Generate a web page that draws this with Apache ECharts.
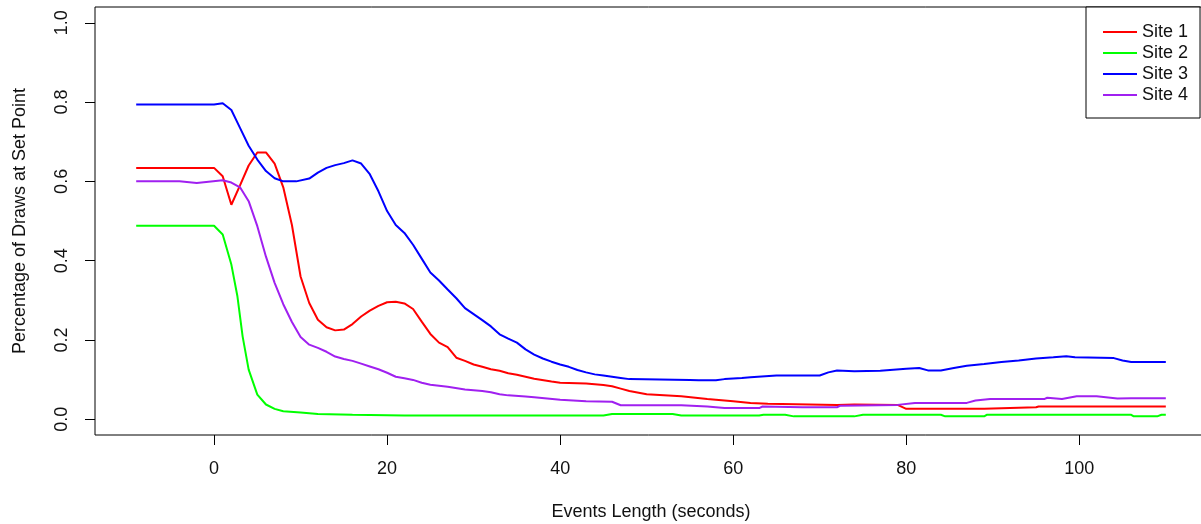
<!DOCTYPE html>
<html>
<head>
<meta charset="utf-8">
<script src="https://cdn.jsdelivr.net/npm/echarts@6/dist/echarts.min.js"></script>
<style>
  html, body { margin: 0; padding: 0; background: #fff; }
  #chart { width: 1201px; height: 524px; }
</style>
</head>
<body>
<div id="chart"></div>
<script>
// values, [seconds, share]
const site1 = [[-9,0.634],[0,0.634],[1,0.613],[2,0.541],[3,0.59],[4,0.64],[5,0.673],[6,0.673],[7,0.645],[8,0.585],[9,0.49],[10,0.36],[11,0.293],[12,0.251],[13,0.232],[14,0.224],[15,0.226],[16,0.24],[17,0.259],[18,0.274],[19,0.286],[20,0.295],[21,0.296],[22,0.292],[23,0.278],[24,0.246],[25,0.215],[26,0.193],[27,0.182],[28,0.155],[29,0.147],[30,0.138],[31,0.132],[32,0.126],[33,0.122],[34,0.116],[35,0.112],[36,0.107],[37,0.102],[39,0.095],[40,0.092],[43,0.09],[45,0.086],[46,0.083],[47,0.077],[48,0.071],[50,0.063],[54,0.058],[57,0.051],[60,0.045],[62,0.041],[64,0.039],[72,0.036],[74,0.037],[79,0.036],[80,0.026],[89,0.026],[89.2,0.030],[95,0.030],[95.3,0.032],[110,0.032]];
const site2 = [[-9,0.488],[0,0.488],[1,0.466],[2,0.39],[2.7,0.31],[3.3,0.209],[4,0.125],[5,0.062],[6,0.037],[7,0.026],[8,0.02],[10,0.017],[12,0.013],[16,0.011],[22,0.009],[45,0.009],[46,0.013],[53,0.013],[54,0.009],[63,0.009],[63.5,0.011],[66,0.011],[67,0.007],[74,0.007],[75,0.011],[84,0.011],[84.5,0.007],[89,0.007],[89.3,0.011],[106,0.011],[106.3,0.007],[109,0.007],[109.5,0.011],[110,0.011]];
const site3 = [[-9,0.794],[0,0.794],[1,0.797],[2,0.78],[3,0.735],[4,0.69],[5,0.655],[6,0.626],[7,0.608],[8,0.6],[9.5,0.6],[11,0.607],[12,0.622],[13,0.634],[14,0.641],[15,0.646],[16,0.653],[17,0.645],[18,0.618],[19,0.575],[20,0.525],[21,0.49],[22,0.47],[23,0.44],[24,0.405],[25,0.37],[26,0.35],[27,0.327],[28,0.305],[29,0.28],[30,0.265],[31,0.25],[32,0.234],[33,0.214],[34,0.203],[35,0.193],[36,0.176],[37,0.163],[38,0.153],[39,0.145],[40,0.138],[41,0.132],[42,0.124],[43,0.118],[44,0.113],[45,0.11],[46,0.107],[47,0.104],[48,0.101],[55,0.099],[56,0.098],[58,0.098],[59,0.101],[61,0.104],[62,0.106],[65,0.11],[70,0.11],[71,0.118],[72,0.123],[74,0.121],[77,0.122],[80,0.127],[81.5,0.129],[82.5,0.123],[84,0.123],[85.5,0.129],[87,0.135],[89,0.139],[91,0.144],[93,0.148],[95,0.153],[97,0.156],[98.5,0.159],[99.5,0.156],[104,0.154],[105,0.148],[106,0.144],[110,0.144]];
const site4 = [[-9,0.6],[-4,0.6],[-3.8,0.596],[-2,0.596],[-1.8,0.6],[1,0.603],[2,0.597],[3,0.585],[4,0.55],[5,0.487],[6,0.41],[7,0.344],[8,0.29],[9,0.245],[10,0.207],[11,0.188],[12,0.18],[13,0.17],[14,0.158],[15,0.152],[16,0.147],[17,0.14],[18,0.133],[19,0.126],[20,0.117],[21,0.107],[22,0.103],[23,0.099],[24,0.092],[25,0.087],[27,0.082],[29,0.075],[31,0.071],[32,0.068],[33,0.063],[34,0.06],[36,0.057],[37,0.055],[40,0.049],[43,0.045],[46,0.044],[47,0.035],[54,0.035],[57,0.032],[59,0.028],[63,0.028],[63.4,0.032],[68,0.030],[72,0.030],[72.4,0.034],[79,0.036],[81,0.041],[87,0.041],[88,0.047],[89.7,0.051],[96,0.051],[96.3,0.054],[98,0.051],[99.7,0.058],[102,0.058],[104.4,0.052],[106,0.053],[110,0.053]];

const siteNames = ['Site 1', 'Site 2', 'Site 3', 'Site 4'];
const siteColors = ['#ff0000', '#00ff00', '#0000ff', '#a020f0'];
const xTicks = [0, 20, 40, 60, 80, 100];
const yTicks = [0, 0.2, 0.4, 0.6, 0.8, 1.0];

const font = '"Liberation Sans", Arial, sans-serif';
const chart = echarts.init(document.getElementById('chart'));

const option = {
  backgroundColor: '#fff',
  animation: false,
  grid: {
    left: 95, top: 7, width: 1112, height: 428,
    show: true, borderColor: '#000', borderWidth: 1,
    outerBoundsMode: 'none'
  },
  legend: {
    orient: 'vertical',
    left: 1086, top: 7,
    padding: [15, 12, 13, 17],
    backgroundColor: '#fff',
    borderColor: '#000', borderWidth: 1,
    icon: 'rect',
    itemWidth: 34, itemHeight: 2,
    itemGap: 1, itemTextGap: 16,
    textStyle: { fontFamily: font, fontSize: 18, color: '#111', lineHeight: 20 },
    data: siteNames
  },
  xAxis: {
    type: 'value', min: -13.76, max: 114.76,
    name: 'Events Length (seconds)', nameLocation: 'middle', nameGap: 68,
    nameTextStyle: { fontFamily: font, fontSize: 18, color: '#111' },
    axisLine: { show: false, onZero: false },
    axisTick: { show: true, inside: false, length: 10, lineStyle: { color: '#000' }, customValues: xTicks },
    axisLabel: { fontFamily: font, fontSize: 18, color: '#111', margin: 25, customValues: xTicks },
    splitLine: { show: false }
  },
  yAxis: {
    type: 'value', min: -0.04, max: 1.04,
    name: 'Percentage of Draws at Set Point', nameLocation: 'middle', nameGap: 66,
    nameTextStyle: { fontFamily: font, fontSize: 18, color: '#111' },
    axisLine: { show: false, onZero: false },
    axisTick: { show: true, inside: false, length: 10, lineStyle: { color: '#000' }, customValues: yTicks },
    axisLabel: {
      fontFamily: font, fontSize: 18, color: '#111', margin: 24, rotate: 90,
      customValues: yTicks,
      formatter: v => v.toFixed(1)
    },
    splitLine: { show: false }
  },
  series: [site1, site2, site3, site4].map((d, i) => ({
    name: siteNames[i],
    type: 'line',
    data: d,
    showSymbol: false,
    color: siteColors[i],
    lineStyle: { width: 2, color: siteColors[i] }
  }))
};
chart.setOption(option);
</script>
</body>
</html>
